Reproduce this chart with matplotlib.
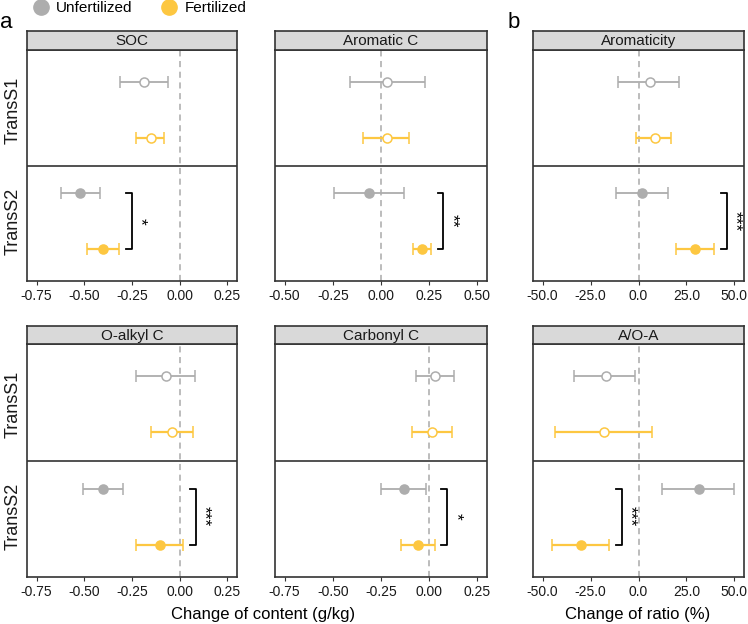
import numpy as np
import matplotlib.pyplot as plt
from matplotlib.lines import Line2D

plt.rcParams['font.family'] = ['Liberation Sans', 'DejaVu Sans']

# panels, row by row
panels = ['SOC', 'Aromatic C', 'Aromaticity', 'O-alkyl C', 'Carbonyl C', 'A/O-A']
groups = ['TransS1', 'TransS2']

# [TransS1, TransS2] for each panel
unf_mean = [[-0.189, -0.521], [0.033, -0.060], [5.9, 1.9],
            [-0.071, -0.401], [0.032, -0.132], [-17.1, 31.5]]
unf_lo = [[-0.314, -0.620], [-0.163, -0.244], [-10.7, -11.6],
          [-0.229, -0.507], [-0.067, -0.251], [-33.6, 12.2]]
unf_hi = [[-0.064, -0.417], [0.230, 0.121], [21.3, 15.4],
          [0.080, -0.299], [0.128, -0.019], [-1.6, 50.0]]

fert_mean = [[-0.153, -0.401], [0.032, 0.214], [8.5, 29.4],
             [-0.040, -0.102], [0.014, -0.060], [-17.8, -29.9]]
fert_lo = [[-0.231, -0.484], [-0.091, 0.168], [-1.4, 19.4],
           [-0.151, -0.229], [-0.088, -0.146], [-43.5, -44.9]]
fert_hi = [[-0.080, -0.318], [0.147, 0.258], [17.1, 39.6],
           [0.071, 0.019], [0.116, 0.028], [7.2, -15.2]]

sig = ['*', '**', '***', '***', '*', '***']

xlims = [(-0.8, 0.3), (-0.55, 0.55), (-55, 55), (-0.8, 0.3), (-0.8, 0.3), (-55, 55)]
xticks = [np.arange(-0.75, 0.26, 0.25), np.arange(-0.5, 0.51, 0.25), np.arange(-50, 51, 25),
          np.arange(-0.75, 0.26, 0.25), np.arange(-0.75, 0.26, 0.25), np.arange(-50, 51, 25)]
fmts = ['%.2f', '%.2f', '%.1f', '%.2f', '%.2f', '%.1f']

grey = '#ADADAD'
yellow = '#FDC741'
W, H = 748, 624

fig = plt.figure(figsize=(W / 100, H / 100), dpi=100)

cols = [(27, 237), (275, 487), (533, 744)]
rows = [(31, 50, 281), (326, 344, 577)]


def box(x0, x1, y0, y1):
    return [x0 / W, 1 - y1 / H, (x1 - x0) / W, (y1 - y0) / H]


for i, name in enumerate(panels):
    r, c = divmod(i, 3)
    x0, x1 = cols[c]
    st, sb, pb = rows[r]
    ax = fig.add_axes(box(x0, x1, sb, pb))
    strip = fig.add_axes(box(x0, x1, st, sb))
    strip.set_facecolor('#D9D9D9')
    strip.set_xticks([])
    strip.set_yticks([])
    for s in strip.spines.values():
        s.set_color('#333333')
        s.set_linewidth(1.2)
    strip.text(0.5, 0.45, name, ha='center', va='center', fontsize=11,
               color='#1a1a1a', transform=strip.transAxes)

    ax.axvline(0, color='#AAAAAA', ls=(0, (4, 3)), lw=1.1, zorder=0)
    ax.axhline(2.5, color='#222222', lw=1.1)

    for g in range(2):
        yu, yf = 2 * g + 1, 2 * g + 2
        fill_u = 'white' if g == 0 else grey
        fill_f = 'white' if g == 0 else yellow
        m = unf_mean[i][g]
        ax.errorbar([m], [yu], xerr=[[m - unf_lo[i][g]], [unf_hi[i][g] - m]],
                    fmt='o', color=grey, mfc=fill_u, mec=grey, ms=6.5, mew=1.1,
                    elinewidth=1.3, capsize=4, capthick=1.3, zorder=3)
        m = fert_mean[i][g]
        ax.errorbar([m], [yf], xerr=[[m - fert_lo[i][g]], [fert_hi[i][g] - m]],
                    fmt='o', color=yellow, mfc=fill_f, mec=yellow, ms=6.5, mew=1.1,
                    elinewidth=1.6, capsize=4, capthick=1.6, zorder=3)

    # significance bracket for TransS2
    span = xlims[i][1] - xlims[i][0]
    bx = fert_hi[i][1] + 0.06 * span
    tick = 0.028 * span
    ax.plot([bx - tick, bx, bx, bx - tick], [3, 3, 4, 4], color='black', lw=1.3)
    ax.annotate(sig[i], (bx, 3.5), xytext=(6, 0), textcoords='offset points',
                rotation=-90, ha='center', va='center', fontsize=12.5)

    ax.set_xlim(*xlims[i])
    ax.set_ylim(4.58, 0.42)
    ax.set_xticks(xticks[i])
    ax.set_xticklabels([fmts[i] % v for v in xticks[i]], fontsize=10, color='#1a1a1a')
    ax.tick_params(axis='x', length=3, color='#333333', pad=3)
    if c == 0:
        ax.set_yticks([1.5, 3.5])
        ax.set_yticklabels(groups, rotation=90, va='center', fontsize=13, color='#1a1a1a')
        ax.tick_params(axis='y', length=0, pad=4)
    else:
        ax.set_yticks([])
    for s in ax.spines.values():
        s.set_color('#333333')
        s.set_linewidth(1.2)

fig.text(263 / W, 1 - 614 / H, 'Change of content (g/kg)', ha='center', va='center', fontsize=12)
fig.text(638 / W, 1 - 614 / H, 'Change of ratio (%)', ha='center', va='center', fontsize=12)
fig.text(0 / W, 1 - 23 / H, 'a', ha='left', va='center', fontsize=16)
fig.text(508 / W, 1 - 23 / H, 'b', ha='left', va='center', fontsize=16)

handles = [Line2D([], [], marker='o', ls='', color=grey, ms=11),
           Line2D([], [], marker='o', ls='', color=yellow, ms=11)]
fig.legend(handles, ['Unfertilized', 'Fertilized'], loc='center left',
           bbox_to_anchor=(24 / W, 1 - 8 / H), ncol=2, frameon=False, fontsize=11,
           handletextpad=0.4, columnspacing=1.8, borderpad=0, handlelength=1.2)

plt.savefig('out.png', dpi=100)
